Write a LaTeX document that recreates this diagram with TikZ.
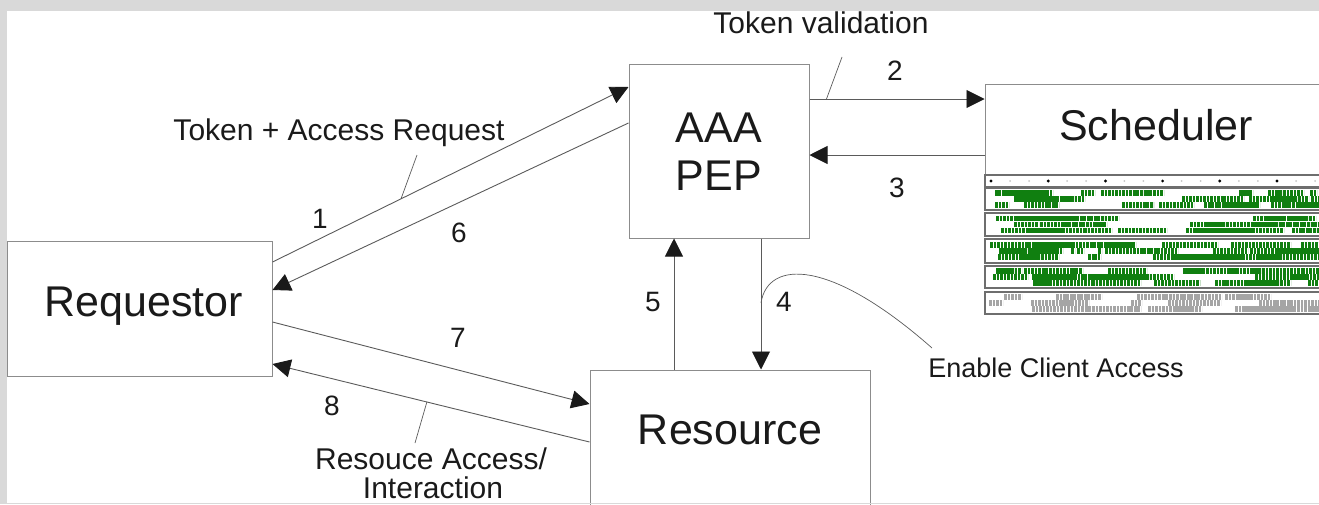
\documentclass[tikz,border=0pt]{standalone}
\usepackage{fontspec}
\setmainfont{Liberation Sans}
\usetikzlibrary{arrows.meta}
\definecolor{framegray}{HTML}{D9D9D9}
\definecolor{boxline}{HTML}{8C8C8C}
\definecolor{arrline}{HTML}{5A5A5A}
\definecolor{txt}{HTML}{1A1A1A}
\definecolor{cellgreen}{HTML}{107F10}
\definecolor{cellgray}{HTML}{A5A5A5}
\definecolor{stripline}{HTML}{6E6E6E}
\begin{document}
\begin{tikzpicture}[x=1pt,y=-1pt,
  box/.style={draw=boxline, line width=1pt, inner sep=0pt, fill=white},
  big/.style={text=txt, font=\fontsize{43}{48}\selectfont, anchor=base, inner sep=0pt},
  lbl/.style={text=txt, font=\fontsize{30}{32}\selectfont, anchor=base, inner sep=0pt},
  num/.style={text=txt, font=\fontsize{28}{30}\selectfont, anchor=base, inner sep=0pt},
  conn/.style={draw=arrline, line width=0.9pt, -{Triangle[length=18pt,width=18pt,color=txt]}},
  leader/.style={draw=arrline, line width=0.7pt},
  cell/.style={line width=5.6pt, dash pattern=on 2.8pt off 0.7pt},
  stripbox/.style={draw=stripline, line width=1.5pt, fill=white},
]
\useasboundingbox (0,0) rectangle (1319,504);
\begin{scope}
\clip (0,0) rectangle (1319,504);
% boxes
\node[box, minimum width=265pt, minimum height=135pt] (req) at (139.5,308.5) {};
\node[box, minimum width=180pt, minimum height=174pt] (aaa) at (719,151) {};
\node[box, minimum width=342pt, minimum height=90pt] (sch) at (1156,129) {};
\node[box, minimum width=280pt, minimum height=140pt] (res) at (730,440) {};
% box texts
\node[big] (reqt) at (144,316) {Requestor};
\node[big] (aaat) at (719,142) {AAA};
\node[big] (pept) at (719,190) {PEP};
\node[big] (scht) at (1156,140) {Scheduler};
\node[big] (rest) at (730,444) {Resource};
% scheduler strip panel
\foreach \ya/\yb in {175/187, 188/210, 213/236, 239/263, 266/288, 292/314}
  \draw[stripbox] (985,\ya) rectangle (1330,\yb);
\foreach \k in {0,...,5}{
  \fill[black] (991+57.2*\k,181) circle (1.6pt);
  \fill[gray!45] (1010+57.2*\k,181) circle (1pt);
  \fill[gray!45] (1029+57.2*\k,181) circle (1pt);
}
\pgfmathsetseed{12345}
\foreach \yy/\cc/\nseg in {199/cellgreen/13, 224.5/cellgreen/13, 251/cellgreen/13, 277/cellgreen/13, 303/cellgray/10}{
  \foreach \s in {-6,0,6}{
    \foreach \k in {1,...,\nseg}{
      \pgfmathrandominteger{\xs}{989}{1312}
      \pgfmathrandominteger{\nl}{1}{18}
      \draw[cell, draw=\cc] (\xs,\yy+\s) -- ++(3.5*\nl,0);
    }
  }
}
% connectors
\draw[conn] ([yshift=46.5pt]req.east) -- coordinate[pos=0.361] (c1) ([yshift=64pt]aaa.west);
\draw[conn] ([yshift=28pt]aaa.west) -- ([yshift=18.5pt]req.east);
\draw[conn] ([yshift=52pt]aaa.east) -- coordinate[pos=0.097] (c2) ([yshift=30pt]sch.west);
\draw[conn] ([yshift=-26pt]sch.west) -- ([yshift=-4pt]aaa.east);
\draw[conn] ([yshift=-13.5pt]req.east) -- ([yshift=36pt]res.west);
\draw[conn] ([yshift=-2pt]res.west) -- coordinate[pos=0.513] (c8) ([yshift=-55.5pt]req.east);
\draw[conn] ([xshift=-56pt]res.north) -- ([xshift=-45pt]aaa.south);
\draw[conn] ([xshift=42pt]aaa.south) -- coordinate[pos=0.49] (c4) ([xshift=31pt]res.north);
% leader lines
\coordinate (l2) at (842,57);
\coordinate (l1) at (417,155);
\coordinate (l8) at (415,443);
\coordinate (l4) at (932,348);
\draw[leader] (l2) -- (c2);
\draw[leader] (l1) -- (c1);
\draw[leader] (c8) -- (l8);
\draw[leader] (c4) .. controls +(7,-43) and +(-102,-90) .. (l4);
% labels
\node[lbl] (tv) at (821,33) {Token validation};
\node[lbl] (tar) at (339,140) {Token + Access Request};
\node[lbl] (ra1) at (431,469) {Resouce Access/};
\node[lbl] (ra2) at (433,498) {Interaction};
\node[lbl, font=\fontsize{27}{30}\selectfont] (eca) at (1056,377) {Enable Client Access};
% numbers
\node[num] (n1) at (320,228) {1};
\node[num] (n2) at (895,80) {2};
\node[num] (n3) at (897,197) {3};
\node[num] (n4) at (784,311) {4};
\node[num] (n5) at (653,311) {5};
\node[num] (n6) at (459,242) {6};
\node[num] (n7) at (458,347) {7};
\node[num] (n8) at (332,415) {8};
\end{scope}
% frame
\fill[framegray] (0,0) rectangle (1319,11);
\fill[framegray] (0,0) rectangle (7,504);
\fill[framegray] (0,503) rectangle (1319,504);
\end{tikzpicture}
\end{document}
